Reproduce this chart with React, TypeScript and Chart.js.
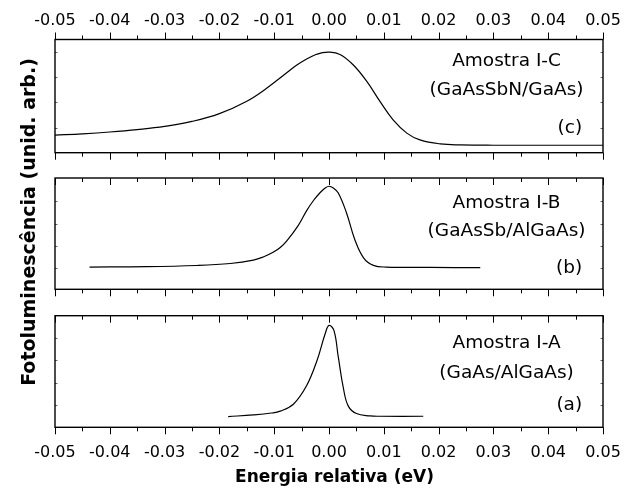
import React, { useEffect, useRef } from 'react';
import { Chart, registerables } from 'chart.js';

Chart.register(...registerables);

const FONT = "'DejaVu Sans', sans-serif";

// shared x axis (relative energy, eV)
const X_MIN = -0.05;
const X_MAX = 0.05;
const X_STEP = 0.01;
const X_MINOR_STEP = 0.005;

// Panel (c): Amostra I-C
const energyC = [-0.05, -0.045, -0.04, -0.035, -0.03, -0.025, -0.02, -0.015, -0.0115, -0.008, -0.006, -0.004, -0.0025, -0.0015, 0.0, 0.002, 0.0044, 0.0069, 0.0093, 0.0117, 0.0142, 0.0166, 0.0203, 0.024, 0.03, 0.04, 0.05];
const intensityC = [0.155, 0.167, 0.183, 0.204, 0.232, 0.276, 0.345, 0.455, 0.565, 0.695, 0.77, 0.83, 0.865, 0.88, 0.889, 0.868, 0.777, 0.63, 0.453, 0.29, 0.173, 0.113, 0.078, 0.069, 0.066, 0.066, 0.066];

// Panel (b): Amostra I-B
const energyB = [-0.0437, -0.0333, -0.0241, -0.018, -0.0138, -0.012, -0.0102, -0.0089, -0.0077, -0.0056, -0.0041, -0.0028, -0.0016, -0.0007, 0.0, 0.0008, 0.0017, 0.0032, 0.0047, 0.0063, 0.0081, 0.0105, 0.0184, 0.0276];
const intensityB = [0.2, 0.203, 0.214, 0.232, 0.262, 0.29, 0.332, 0.375, 0.435, 0.575, 0.705, 0.8, 0.87, 0.91, 0.926, 0.91, 0.866, 0.686, 0.448, 0.283, 0.215, 0.2, 0.197, 0.194];

// Panel (a): Amostra I-A
const energyA = [-0.0184, -0.0138, -0.0105, -0.0089, -0.0065, -0.0041, -0.0022, -0.0007, 0.0, 0.0009, 0.0017, 0.0026, 0.0035, 0.005, 0.0075, 0.0093, 0.0172];
const intensityA = [0.096, 0.111, 0.128, 0.145, 0.207, 0.372, 0.597, 0.838, 0.913, 0.868, 0.628, 0.358, 0.192, 0.123, 0.102, 0.099, 0.099];

const textC = ['Amostra I-C', '(GaAsSbN/GaAs)', '(c)'];
const textB = ['Amostra I-B', '(GaAsSb/AlGaAs)', '(b)'];
const textA = ['Amostra I-A', '(GaAs/AlGaAs)', '(a)'];

const X_TITLE = 'Energia relativa (eV)';
const Y_TITLE = 'Fotoluminescência (unid. arb.)';

// text anchor positions in data units
const TEXT_CENTER_X = 0.0324;
const TEXT_RIGHT_X = 0.0462;

type PanelCfg = {
  id: string;
  energy: number[];
  intensity: number[];
  text: string[];
  baselines: number[];
  canvasTop: number;
  canvasHeight: number;
  padding: { top: number; bottom: number; left: number; right: number };
  axis: 'top' | 'bottom' | 'none';
  axisHeight: number;
  tickPadding: number;
  topTicks: 'in' | 'out';
  sideTicks: number[];
};

const panels: PanelCfg[] = [
  {
    id: 'c', energy: energyC, intensity: intensityC, text: textC,
    baselines: [26.5, 55, 93],
    canvasTop: 0, canvasHeight: 170,
    padding: { top: 0, bottom: 17.3, left: 55, right: 28 },
    axis: 'top', axisHeight: 39.5, tickPadding: 2, topTicks: 'out',
    sideTicks: [0.22, 0.45, 0.67, 0.89],
  },
  {
    id: 'b', energy: energyB, intensity: intensityB, text: textB,
    baselines: [30.3, 58, 95.3],
    canvasTop: 165, canvasHeight: 135,
    padding: { top: 13, bottom: 10.7, left: 55, right: 28 },
    axis: 'none', axisHeight: 0, tickPadding: 0, topTicks: 'in',
    sideTicks: [0.19, 0.39, 0.59, 0.79],
  },
  {
    id: 'a', energy: energyA, intensity: intensityA, text: textA,
    baselines: [32.3, 62.3, 94],
    canvasTop: 300, canvasHeight: 189,
    padding: { top: 15.7, bottom: 0, left: 55, right: 28 },
    axis: 'bottom', axisHeight: 61.7, tickPadding: 9, topTicks: 'in',
    sideTicks: [0.2, 0.4, 0.6, 0.8],
  },
];

function makePlugin(cfg: PanelCfg) {
  return {
    id: 'frame_' + cfg.id,
    afterDraw(chart: any) {
      const { ctx, chartArea } = chart;
      const { left, right, top, bottom } = chartArea;
      const xs = chart.scales.x;
      const ys = chart.scales.y;
      ctx.save();
      ctx.strokeStyle = '#000';
      ctx.lineWidth = 1;
      ctx.beginPath();
      const n = Math.round((X_MAX - X_MIN) / X_MINOR_STEP);
      const tdir = cfg.topTicks === 'out' ? -1 : 1;
      for (let i = 0; i <= n; i++) {
        const v = X_MIN + i * X_MINOR_STEP;
        const px = Math.round(xs.getPixelForValue(v)) + 0.5;
        const len = i % 2 === 0 ? 7 : 4;
        ctx.moveTo(px, top);
        ctx.lineTo(px, top + tdir * len);
        ctx.moveTo(px, bottom);
        ctx.lineTo(px, bottom + len);
      }
      ctx.stroke();
      ctx.strokeStyle = '#666';
      ctx.beginPath();
      cfg.sideTicks.forEach((f) => {
        const py = Math.round(ys.getPixelForValue(f)) + 0.5;
        ctx.moveTo(left, py);
        ctx.lineTo(left + 2.5, py);
        ctx.moveTo(right, py);
        ctx.lineTo(right - 2.5, py);
      });
      ctx.stroke();
      ctx.strokeStyle = '#000';
      ctx.lineWidth = 1.4;
      ctx.strokeRect(left, top, right - left, bottom - top);

      ctx.fillStyle = '#000';
      ctx.font = `18.5px ${FONT}`;
      ctx.textBaseline = 'alphabetic';
      ctx.textAlign = 'center';
      const cx = xs.getPixelForValue(TEXT_CENTER_X);
      ctx.fillText(cfg.text[0], cx, top + cfg.baselines[0]);
      ctx.fillText(cfg.text[1], cx, top + cfg.baselines[1]);
      ctx.textAlign = 'right';
      ctx.fillText(cfg.text[2], xs.getPixelForValue(TEXT_RIGHT_X), top + cfg.baselines[2]);
      ctx.restore();
    },
  };
}

function Panel({ cfg }: { cfg: PanelCfg }) {
  const ref = useRef<HTMLCanvasElement>(null);
  useEffect(() => {
    const data = cfg.energy.map((e, i) => ({ x: e, y: cfg.intensity[i] }));
    const chart = new Chart(ref.current as HTMLCanvasElement, {
      type: 'line',
      data: {
        datasets: [
          {
            data,
            borderColor: '#000',
            borderWidth: 1.2,
            pointRadius: 0,
            tension: 0.4,
            fill: false,
          } as any,
        ],
      },
      options: {
        animation: false,
        responsive: false,
        events: [],
        layout: { padding: cfg.padding },
        plugins: {
          legend: { display: false },
          tooltip: { enabled: false },
          title: { display: false },
        },
        scales: {
          x: {
            type: 'linear',
            position: cfg.axis === 'top' ? 'top' : 'bottom',
            display: cfg.axis !== 'none',
            min: X_MIN,
            max: X_MAX,
            afterFit: (s: any) => {
              s.height = cfg.axisHeight;
            },
            grid: {
              drawOnChartArea: false,
              drawTicks: true,
              tickLength: 7,
              color: 'rgba(0,0,0,0)',
            },
            border: { display: false },
            ticks: {
              stepSize: X_STEP,
              autoSkip: false,
              maxRotation: 0,
              minRotation: 0,
              padding: cfg.tickPadding,
              color: '#000',
              font: { family: FONT, size: 16 },
              callback: (v: any) => {
                const n = Number(v);
                return Math.abs(n) < 1e-9 ? '0.00' : n.toFixed(2);
              },
            },
          },
          y: { display: false, min: 0, max: 1 },
        },
      } as any,
      plugins: [makePlugin(cfg)],
    });
    return () => chart.destroy();
  }, [cfg]);
  return (
    <canvas
      ref={ref}
      width={631}
      height={cfg.canvasHeight}
      style={{ position: 'absolute', left: 0, top: cfg.canvasTop, width: 631, height: cfg.canvasHeight }}
    />
  );
}

export default function App() {
  return (
    <div style={{ position: 'absolute', left: 0, top: 0, width: 631, height: 489, background: '#fff', overflow: 'hidden' }}>
      {panels.map((p) => (
        <Panel key={p.id} cfg={p} />
      ))}
      <div
        style={{
          position: 'absolute', left: 134.5, top: 466.4, width: 400, height: 20,
          lineHeight: '20px', textAlign: 'center', fontFamily: FONT, fontWeight: 'bold',
          fontSize: 17, color: '#000', whiteSpace: 'nowrap',
        }}
      >
        {X_TITLE}
      </div>
      <div
        style={{
          position: 'absolute', left: -172, top: 211, width: 400, height: 22,
          lineHeight: '22px', textAlign: 'center', fontFamily: FONT, fontWeight: 'bold',
          fontSize: 19, color: '#000', whiteSpace: 'nowrap', transform: 'rotate(-90deg)',
        }}
      >
        {Y_TITLE}
      </div>
    </div>
  );
}
